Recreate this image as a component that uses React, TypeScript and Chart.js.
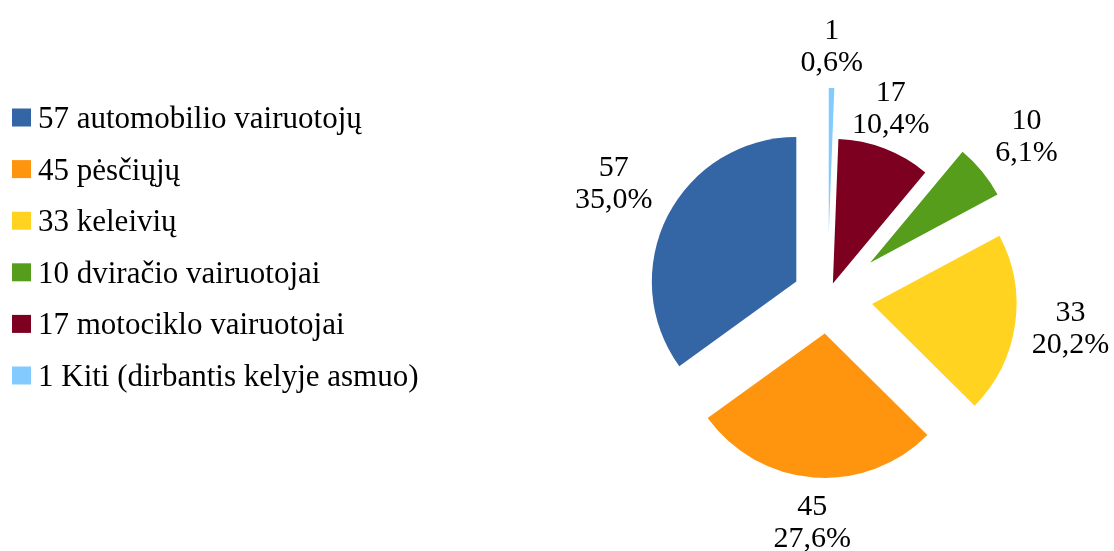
import React, { useEffect, useRef } from 'react';
import { Chart, registerables } from 'chart.js';

Chart.register(...registerables);

// ---- data (legend order) ----
const categories = [
  '57 automobilio vairuotojų',
  '45 pėsčiųjų',
  '33 keleivių',
  '10 dviračio vairuotojai',
  '17 motociklo vairuotojai',
  '1 Kiti (dirbantis kelyje asmuo)',
];
const counts = [57, 45, 33, 10, 17, 1];

// ---- styles (legend order) ----
const colors = ['#3465A4', '#FF950E', '#FFD320', '#579D1C', '#7E0021', '#83CAFF'];
const explode = [35, 36, 45, 55, 15, 65];

const W = 1114;
const H = 551;
const FONT = '"Liberation Serif", "Times New Roman", serif';
const LABEL_FS = 30;
const LEGEND_FS = 31;
const LABEL_LINE = 32;
const LABEL_GAP = 17;
const DIGIT_MID = 0.338; // digit ink centre above baseline, in em
const DIGIT_H = 0.676; // digit ink height, in em
const SECTOR = Math.sin(Math.PI / 8);

// Chart.js draws clockwise from 12 o'clock; the original runs counter-clockwise,
// so the dataset is given in reverse order.
const chartLabels = [...categories].reverse();
const chartValues = [...counts].reverse();
const chartColors = [...colors].reverse();
const chartExplode = [...explode].reverse();

const explodePlugin = {
  id: 'explodeSlices',
  afterDatasetUpdate(chart: any, args: any) {
    const meta = args.meta;
    meta.data.forEach((el: any, i: number) => {
      const mid = (el.startAngle + el.endAngle) / 2;
      const d = chartExplode[i] || 0;
      el.x += Math.cos(mid) * d;
      el.y += Math.sin(mid) * d;
    });
  },
};

const labelPlugin = {
  id: 'sliceLabels',
  afterDatasetsDraw(chart: any) {
    const ctx = chart.ctx;
    const meta = chart.getDatasetMeta(0);
    const data = chart.data.datasets[0].data as number[];
    const total = data.reduce((a, b) => a + b, 0);
    ctx.save();
    ctx.font = `${LABEL_FS}px ${FONT}`;
    ctx.fillStyle = '#000';
    ctx.textAlign = 'center';
    ctx.textBaseline = 'alphabetic';
    meta.data.forEach((el: any, i: number) => {
      const v = data[i];
      const pct = ((v / total) * 100).toFixed(1).replace('.', ',') + '%';
      const lines = [String(v), pct];
      const w = Math.max(...lines.map((l) => ctx.measureText(l).width));
      const h = LABEL_LINE + LABEL_FS * DIGIT_H;
      const mid = (el.startAngle + el.endAngle) / 2;
      const ux = Math.cos(mid);
      const uy = Math.sin(mid);
      const ax = el.x + ux * (el.outerRadius + LABEL_GAP);
      const ay = el.y + uy * (el.outerRadius + LABEL_GAP);
      let left = ax - w / 2;
      if (ux > SECTOR) left = ax;
      else if (ux < -SECTOR) left = ax - w;
      let top = ay - h / 2;
      if (uy > SECTOR) top = ay;
      else if (uy < -SECTOR) top = ay - h;
      const cx = left + w / 2;
      const base1 = top + LABEL_FS * DIGIT_H;
      ctx.fillText(lines[0], cx, base1);
      ctx.fillText(lines[1], cx, base1 + LABEL_LINE);
    });
    ctx.restore();
  },
};

const legendPlugin = {
  id: 'sideLegend',
  afterDraw(chart: any) {
    const ctx = chart.ctx;
    ctx.save();
    ctx.font = `${LEGEND_FS}px ${FONT}`;
    ctx.textAlign = 'left';
    ctx.textBaseline = 'alphabetic';
    const firstY = 117.5;
    const step = 51.6;
    categories.forEach((label, i) => {
      const cy = firstY + i * step;
      ctx.fillStyle = colors[i];
      ctx.fillRect(12, cy - 9, 19, 18);
      ctx.fillStyle = '#000';
      ctx.fillText(label, 38, cy + DIGIT_MID * LEGEND_FS);
    });
    ctx.restore();
  },
};

export default function App() {
  const ref = useRef<HTMLCanvasElement | null>(null);

  useEffect(() => {
    if (!ref.current) return;
    const chart = new Chart(ref.current, {
      type: 'pie',
      data: {
        labels: chartLabels,
        datasets: [
          {
            data: chartValues,
            backgroundColor: chartColors,
            borderWidth: 0,
            radius: 144.5,
          } as any,
        ],
      },
      options: {
        responsive: false,
        animation: false,
        devicePixelRatio: 1,
        layout: { padding: { left: 541, top: 44, right: 0, bottom: 0 } },
        plugins: {
          legend: { display: false },
          tooltip: { enabled: false },
        },
      },
      plugins: [explodePlugin, labelPlugin, legendPlugin],
    });
    return () => chart.destroy();
  }, []);

  return (
    <div style={{ position: 'fixed', left: 0, top: 0, width: W, height: H, background: '#fff' }}>
      <canvas ref={ref} width={W} height={H} style={{ display: 'block', width: W, height: H }} />
    </div>
  );
}
